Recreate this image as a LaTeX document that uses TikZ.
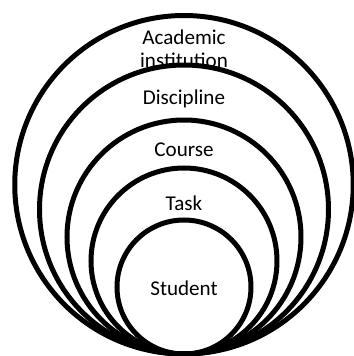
\documentclass[tikz,border=0pt]{standalone}
\usepackage{fontspec}
\setmainfont{Carlito}
\tikzset{
    ring/.style={draw=black, line width=0.1cm},
    ringlabel/.style={font=\fontsize{12}{13}\selectfont, align=center, inner sep=0pt}
}
\newcommand{\drawRing}[1]{
    \draw[ring] (184,2+#1) circle (#1);
}

\begin{document}
\begin{tikzpicture}[x=0.02cm,y=0.02cm]
            \useasboundingbox (0,0) rectangle (354,356);
            \clip (0,0) rectangle (354,356);
            \fill[white] (0,0) rectangle (354,356);

            \drawRing{169.25}
            \drawRing{144.5}
            \drawRing{117}
            \drawRing{93}
            \drawRing{67}

            \node[ringlabel] (institution) at (184,307.5) {Academic\\institution};
            \node[ringlabel] (discipline) at (184,257) {Discipline};
            \node[ringlabel] (course) at (184,206) {Course};
            \node[ringlabel] (task) at (184,153) {Task};
            \node[ringlabel] (student) at (184,68) {Student};
        \end{tikzpicture}
\end{document}
